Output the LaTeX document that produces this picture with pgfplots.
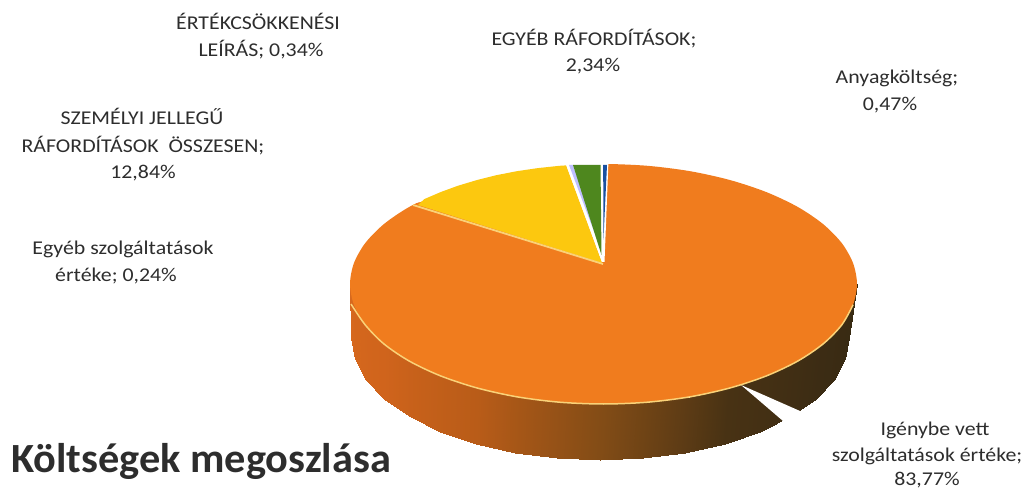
\documentclass[border=0pt]{standalone}
\usepackage{pgfplots}
\pgfplotsset{compat=1.18}
\usepackage{fontspec}
\setmainfont{Carlito}
\newfontfamily\labfont[FakeStretch=1.12]{Carlito}
\newfontfamily\titfont[FakeStretch=1.02]{Carlito}
\definecolor{topor}{RGB}{240,124,30}
\definecolor{yel}{RGB}{252,200,15}
\definecolor{gre}{RGB}{78,135,30}
\definecolor{blu}{RGB}{25,80,160}
\definecolor{txt}{RGB}{45,45,45}
\definecolor{rim}{RGB}{250,210,120}
\begin{document}
\begin{tikzpicture}
\begin{axis}[
  width=1026pt,height=489pt,scale only axis,hide axis,clip=false,
  xmin=0,xmax=1026,ymin=0,ymax=489,y dir=reverse,
  point meta min=0,point meta max=180,
  colormap={side}{rgb255=(55,42,18) rgb255=(60,44,20) rgb255=(72,50,20) rgb255=(130,76,22) rgb255=(185,92,24) rgb255=(208,100,28) rgb255=(215,105,30)},
]
% side wall of the disc
\addplot[surf,shader=interp,mesh/rows=2,mesh/cols=19,point meta=explicit] table[x=x,y=y,meta=c] {
x y c
857 284 0
853.1 304.8 10
841.7 325 20
823 344 30
797.7 361.1 40
766.4 375.9 50
730.2 387.9 60
690.2 396.8 70
647.5 402.2 80
603.5 404 90
559.5 402.2 100
516.8 396.8 110
476.8 387.9 120
440.6 375.9 130
409.3 361.1 140
384 344 150
365.3 325 160
353.9 304.8 170
350 284 180
849 338 0
845.2 359.2 10
834 379.7 20
815.6 399 30
790.7 416.4 40
760.1 431.5 50
724.5 443.7 60
685.2 452.6 70
643.2 458.1 80
600 460 90
556.8 458.1 100
514.8 452.6 110
475.5 443.7 120
439.9 431.5 130
409.3 416.4 140
384.4 399 150
366 379.7 160
354.8 359.2 170
351 338 180
};
% gap in the wall
\addplot[fill=white,draw=none] coordinates {(741,385) (783,421) (795,428) (812,416) (800,411) (741,385)};
% top face: large slice
\addplot[fill=topor,draw=none,smooth cycle] coordinates {
(857,284) (853.1,304.8) (841.7,325) (823,344) (797.7,361.1) (766.4,375.9) (730.2,387.9) (690.2,396.8) (647.5,402.2) (603.5,404) (559.5,402.2) (516.8,396.8) (476.8,387.9) (440.6,375.9) (409.3,361.1) (384,344) (365.3,325) (353.9,304.8) (350,284) (353.9,263.2) (365.3,243) (384,224) (409.3,206.9) (440.6,192.1) (476.8,180.1) (516.8,171.2) (559.5,165.8) (603.5,164) (647.5,165.8) (690.2,171.2) (730.2,180.1) (766.4,192.1) (797.7,206.9) (823,224) (841.7,243) (853.1,263.2)};
% white cut above the small slices
\addplot[fill=white,draw=none] coordinates {(560,160) (608.5,160) (604.5,262) (601.5,262) (566,166) (412,204) (412,160) (560,160)};
% yellow slice
\addplot[fill=yel,draw=none] coordinates {(602,263) (418,205) (424.3,199.1) (440.6,192.1) (458.1,185.7) (476.8,180.1) (496.4,175.2) (516.8,171.2) (537.9,168.1) (559.5,165.8) (566,165.4) (602,263)};
% separating line, yellow / orange
\addplot[draw=rim,line width=1.8pt] coordinates {(603,264) (413,205)};
% light blue strip
\addplot[fill=blue!25!white,draw=none] coordinates {(569,165) (573,165) (601,250) (569,165)};
% green slice
\addplot[fill=gre,draw=none] coordinates {(573,165) (600.5,165) (601.5,255) (573,165)};
% blue slice
\addplot[fill=blu,draw=none] coordinates {(603.2,165) (607,165) (603.4,240) (603.2,165)};
% bright rim along the front
\addplot[draw=rim,line width=1.5pt,smooth] coordinates {(853.1,304.8) (841.7,325) (823,344) (797.7,361.1) (766.4,375.9) (730.2,387.9) (690.2,396.8) (647.5,402.2) (603.5,404) (559.5,402.2) (516.8,396.8) (476.8,387.9) (440.6,375.9) (409.3,361.1) (384,344) (365.3,325) (351,304)};

\newcommand{\lab}[3]{\node[anchor=base,font=\labfont\fontsize{19.5}{22}\selectfont,text=txt,inner sep=0pt] at (axis cs:#1,#2) {#3};}
\lab{258}{30}{ÉRTÉKCSÖKKENÉSI}
\lab{261}{57}{LEÍRÁS; 0,34\%}
\lab{142}{125}{SZEMÉLYI JELLEGŰ}
\lab{143}{153}{RÁFORDÍTÁSOK ~ÖSSZESEN;}
\lab{143}{179}{12,84\%}
\lab{594}{46}{EGYÉB RÁFORDÍTÁSOK;}
\lab{593}{72}{2,34\%}
\lab{897}{84}{Anyagköltség;}
\lab{890}{111}{0,47\%}
\lab{123}{255}{Egyéb szolgáltatások}
\lab{116}{282}{értéke; 0,24\%}
\lab{935}{435}{Igénybe vett}
\lab{927}{461}{szolgáltatások értéke;}
\lab{927}{485}{83,77\%}
\node[anchor=base,font=\titfont\fontsize{41.5}{44}\selectfont\bfseries,text=txt,inner sep=0pt] at (axis cs:201,472) {Költségek megoszlása};
\end{axis}
\path (0,0) rectangle (1026pt,489pt);
\end{tikzpicture}
\end{document}
